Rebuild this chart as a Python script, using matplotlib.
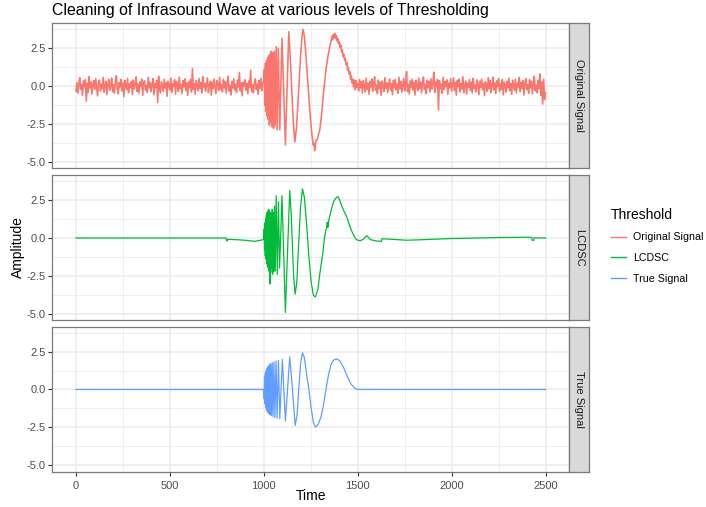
import numpy as np
import matplotlib
matplotlib.use("Agg")
import matplotlib.pyplot as plt
from matplotlib.lines import Line2D
from matplotlib.ticker import MultipleLocator

plt.rcParams["font.family"] = ["Liberation Sans", "DejaVu Sans"]

# ---------------------------------------------------------------------
# labels
# ---------------------------------------------------------------------
title_text = "Cleaning of Infrasound Wave at various levels of Thresholding"
facet_names = ["Original Signal", "LCDSC", "True Signal"]
facet_colors = ["#F8766D", "#00BA38", "#619CFF"]
x_ticks = [0, 500, 1000, 1500, 2000, 2500]
y_ticks = [-5.0, -2.5, 0.0, 2.5]

# ---------------------------------------------------------------------
# Original (noisy) signal
# quiet stretches sampled every 5 time units, event stretch as (t, v)
# ---------------------------------------------------------------------
orig_quiet_a = [
    -0.35, 0.21, -0.48, 0.12, 0.55, -0.22, 0.08, -0.61, 0.33, -0.05, 0.41, -1.00, 0.18, -0.44, 0.62, -0.12, 0.27, -0.53, 0.05, 0.36,
    -0.25, 0.48, -0.08, -0.66, 0.22, 0.39, -0.34, 0.11, -0.19, 0.58, -0.41, 0.03, 0.31, -0.57, 0.15, 0.44, -0.28, -0.03, 0.52, -0.38,
    0.09, -0.47, 0.35, 0.68, -0.16, -0.52, 0.24, -0.07, 0.43, -0.33, 0.19, -0.71, 0.37, 0.02, -0.24, 0.51, -0.45, 0.14, -0.10, 0.29,
    -0.56, 0.40, -0.21, 0.07, 0.60, -0.36, 0.13, -0.49, 0.26, -0.02, 0.46, -0.63, 0.20, 0.34, -0.27, 0.05, -0.42, 0.57, -0.14, 0.25,
    -0.39, 0.10, 0.49, -0.58, 0.17, -0.09, 0.38, -1.10, 0.64, -0.20, -0.46, 0.28, 0.01, -0.35, 0.45, -0.13, 0.22, -0.68, 0.32, 0.06,
    -0.26, 0.53, -0.43, 0.16, -0.04, 0.42, -0.55, 0.30, 0.08, -0.37, 0.59, -0.18, 0.12, -0.50, 0.35, -0.06, 0.47, -0.29, 0.21, -0.62,
    0.27, -0.11, 0.44, -0.40, 1.17, -0.23, 0.15, -0.54, 0.38, 0.04, -0.32, 0.50, -0.15, 0.23, -0.47, 0.61, -0.08, 0.19, -0.36, 0.11,
    0.54, -0.44, 0.07, 0.32, -0.60, 0.25, -0.17, 0.46, -0.03, -0.51, 0.36, 0.14, -0.30, 0.58, -0.21, 0.09, -0.39, 0.43, -0.12, 0.28,
    -0.48, 0.18, 0.65, -0.34, 0.03, -0.59, 0.31, -0.14, 0.49, -0.26, 0.12, -0.42, 0.39, -0.07, 0.90, -0.33, 0.20, -0.65, 0.24, -0.01,
    0.41, -0.28, 0.16, -0.52, 0.33, -0.10, 1.05, -0.38, 0.06, -0.45, 0.27, 0.47, -0.24, 0.13, -0.56, 0.37, -0.16, 0.52, -0.31, 0.22,
]
orig_event_t = [
    1000, 1003, 1006, 1009, 1012, 1015, 1018, 1021, 1024, 1027, 1030, 1033, 1036, 1040, 1044, 1048,
    1052, 1056, 1061, 1066, 1071, 1077, 1085, 1097, 1115, 1133, 1141, 1149, 1157, 1165, 1174, 1182,
    1188, 1195, 1202, 1209, 1216, 1224, 1232, 1240, 1248, 1256, 1263, 1268, 1271, 1274, 1278, 1285,
    1291, 1298, 1304, 1310, 1316, 1322, 1327, 1332, 1337, 1342, 1347, 1351, 1356, 1360, 1363, 1366,
    1370, 1374, 1378, 1382, 1386, 1390, 1394, 1398, 1402, 1406, 1410, 1414, 1418, 1422, 1426, 1430,
    1434, 1438, 1442, 1446, 1450, 1454, 1458, 1462, 1466, 1470, 1474, 1478, 1482, 1486, 1490, 1495,
]
orig_event_v = [
    0.30, 1.10, -1.30, 1.50, -1.70, 1.70, -2.00, 1.90, -2.20, 2.00, -2.60, 2.10, -2.40, 2.30, -2.70, 2.20,
    -2.80, 2.30, -2.60, 2.60, -2.90, 2.50, -2.90, 3.16, -3.90, 3.60, 1.90, -0.20, -2.40, -3.70, -2.80, -1.10,
    0.20, 1.80, 3.10, 3.75, 3.30, 2.10, 0.70, -0.60, -2.10, -3.20, -3.90, -3.80, -4.28, -3.90, -3.60, -3.55,
    -3.20, -2.90, -2.30, -1.60, -0.70, 0.00, 0.60, 1.20, 1.55, 2.00, 2.30, 2.60, 2.85, 3.10, 3.30, 3.05,
    3.40, 3.20, 3.49, 3.15, 3.35, 3.00, 3.15, 2.80, 2.95, 2.55, 2.70, 2.25, 2.40, 1.95, 2.10, 1.70,
    1.85, 1.40, 1.55, 1.05, 1.25, 0.80, 0.95, 0.45, 0.70, 0.20, 0.45, -0.05, 0.40, -0.25, 0.35, -0.10,
]
orig_quiet_b = [
    0.15, -0.32, 0.44, -0.12, 0.28, -0.47, 0.36, 0.05, -0.40, 0.52, -0.22, 0.18, -0.55, 0.31, -0.06, 0.47, -0.35, 0.10, 0.61, -0.28,
    0.07, -0.50, 0.39, -0.17, 0.24, -0.62, 0.33, 0.02, -0.36, 0.55, -0.14, 0.21, -0.44, 0.08, 0.46, -0.30, 0.16, -0.58, 0.37, -0.09,
    0.42, -0.26, 0.13, -0.48, 0.58, -0.19, 0.29, -0.41, 0.04, 0.50, -0.33, 0.19, 0.96, -0.37, 0.11, -0.53, 0.34, -0.08, 0.45, -0.27,
    0.22, -0.60, 0.38, 0.06, -0.31, 0.53, -0.15, 0.27, -0.46, 0.14, 0.60, -0.24, 0.09, -0.52, 0.40, -0.11, 0.31, -0.39, 0.48, -0.20,
    0.17, 0.92, -0.43, 0.26, -0.07, 0.44, -1.58, 0.35, -0.18, 0.12, -0.49, 0.57, -0.23, 0.30, -0.05, 0.41, -0.56, 0.20, -0.13, 0.49,
    -0.34, 0.10, 0.54, -0.29, 0.23, -0.61, 0.36, -0.02, 0.47, -0.40, 0.15, -0.21, 0.62, -0.45, 0.08, 0.33, -0.54, 0.19, -0.10, 0.43,
    -0.30, 0.25, -0.47, 0.51, -0.16, 0.06, -0.38, 0.40, 0.12, -0.57, 0.32, -0.09, 0.46, -0.25, 0.18, -0.64, 0.29, 0.03, -0.35, 0.55,
    -0.19, 0.37, -0.44, 0.11, 0.58, -0.27, 0.21, -0.51, 0.34, -0.04, 0.49, -0.36, 0.14, -0.22, 0.42, -0.59, 0.26, 0.07, -0.41, 0.30,
    -0.12, 0.53, -0.32, 0.16, -0.55, 0.39, 0.01, -0.28, 0.45, -0.46, 0.20, -0.08, 0.57, -0.37, 0.24, -0.15, 0.35, -0.60, 0.13, 0.48,
    -0.25, 0.09, -0.48, 0.42, -0.14, 0.31, -0.53, 0.22, 0.65, -0.33, 0.05, -0.44, 0.38, -0.18, 0.80, -0.62, 0.27, -1.20, 0.44, -0.90,
    -0.45,
]
quiet_step = 5

# ---------------------------------------------------------------------
# LCDSC-thresholded reconstruction, as (t, v)
# ---------------------------------------------------------------------
lcdsc_t = [
    0, 800, 801, 806, 808, 850, 900, 952, 990, 1000,
    1002, 1004, 1006, 1008, 1010, 1012, 1014, 1016, 1018, 1020, 1022, 1024, 1026, 1028, 1030, 1033,
    1035, 1037, 1040, 1042, 1045, 1047, 1050, 1053, 1057, 1061, 1066, 1072, 1078, 1084, 1097, 1115,
    1138, 1146, 1152, 1159, 1167, 1176, 1186, 1196, 1206, 1216, 1228, 1240, 1252, 1264, 1275, 1288,
    1298, 1307, 1316, 1323, 1330, 1335, 1338, 1341, 1345, 1352, 1360, 1370, 1378, 1388, 1395, 1403,
    1411, 1419, 1426, 1433, 1440, 1449, 1457, 1466, 1475, 1483, 1490, 1497, 1511, 1525, 1536, 1543,
    1550, 1557, 1567, 1585, 1599, 1627, 1629, 1700, 1760, 1850, 1990, 2255, 2427, 2429, 2437, 2439,
    2500,
]
lcdsc_v = [
    0.00, 0.00, -0.18, -0.18, -0.09, -0.11, -0.15, -0.22, -0.13, -0.10,
    0.60, -0.80, 1.00, -1.20, 1.30, -1.40, 1.50, -1.70, 1.70, -1.90, 1.80, -2.00, 1.90, -2.20, 1.80, -3.05,
    1.70, -2.30, 1.60, -2.00, 1.90, -2.40, 1.70, -2.20, 2.10, -2.20, 2.80, -2.40, 2.40, -2.00, 2.80, -4.93,
    3.14, 1.60, -0.40, -2.60, -3.72, -2.90, -0.30, 2.10, 3.25, 2.70, 0.90, -1.20, -2.90, -3.80, -3.90, -3.40,
    -2.40, -1.60, -0.84, 0.00, 0.49, 0.75, 1.05, 0.70, 1.10, 1.50, 1.90, 2.35, 2.55, 2.70, 2.74, 2.55,
    2.25, 2.00, 1.80, 1.62, 1.45, 1.12, 0.82, 0.52, 0.27, 0.08, -0.07, -0.13, -0.18, -0.12, -0.02, 0.12,
    0.14, 0.04, -0.10, -0.16, -0.20, -0.22, -0.05, -0.10, -0.15, -0.11, -0.04, 0.03, 0.05, -0.16, -0.16, 0.01,
    0.00,
]

# ---------------------------------------------------------------------
# True (clean) chirp, as (t, v)
# ---------------------------------------------------------------------
true_t = [
    0, 1000, 1002, 1004, 1006, 1008, 1010, 1012, 1014, 1016, 1018, 1020, 1022, 1025, 1028, 1031,
    1034, 1037, 1041, 1045, 1049, 1054, 1059, 1065, 1071, 1078, 1085, 1099, 1115, 1138, 1152, 1167,
    1177, 1186, 1196, 1206, 1216, 1228, 1240, 1252, 1264, 1275, 1290, 1305, 1318, 1331, 1345, 1358,
    1372, 1387, 1405, 1425, 1445, 1465, 1485, 1500, 2500,
]
true_v = [
    0.00, 0.00, -0.60, 0.80, -0.95, 1.05, -1.15, 1.22, -1.30, 1.36, -1.42, 1.47, -1.52, 1.56, -1.60, 1.64,
    -1.68, 1.71, -1.74, 1.77, -1.80, 1.83, -1.86, 1.89, -1.91, 1.93, -1.94, 1.99, -2.10, 2.16, 0.10, -2.38,
    -1.70, 0.00, 1.75, 2.43, 2.10, 1.00, 0.00, -1.20, -2.20, -2.49, -2.30, -1.80, -1.00, 0.00, 1.00, 1.65,
    1.95, 2.03, 1.90, 1.45, 0.85, 0.35, 0.08, 0.00, 0.00,
]

orig_t = np.concatenate([
    np.arange(0, 1000, quiet_step),
    orig_event_t,
    np.arange(1500, 2501, quiet_step),
])
orig_v = np.concatenate([orig_quiet_a, orig_event_v, orig_quiet_b])

series = [
    (orig_t, orig_v, 1.15),
    (np.array(lcdsc_t), np.array(lcdsc_v), 0.9),
    (np.array(true_t), np.array(true_v), 0.9),
]

# ---------------------------------------------------------------------
# layout (pixel boxes on a 706 x 507 canvas)
# ---------------------------------------------------------------------
W, H = 706, 507
fig = plt.figure(figsize=(W / 100, H / 100), dpi=100)


def box(x0, y0, x1, y1):
    return [x0 / W, 1 - y1 / H, (x1 - x0) / W, (y1 - y0) / H]


panel_rows = [(23, 168), (175, 320), (326.5, 471.5)]
left, right, strip_right = 52.5, 569, 589
border = "#7a7a7a"
grid_col = "#EBEBEB"

for i, ((t, v, lw), name, col) in enumerate(zip(series, facet_names, facet_colors)):
    top, bot = panel_rows[i]
    ax = fig.add_axes(box(left, top, right, bot))
    ax.plot(t, v, color=col, lw=lw, solid_joinstyle="round", zorder=3)
    ax.set_xlim(-125, 2625)
    ax.set_ylim(-5.43, 4.17)
    ax.set_xticks(x_ticks)
    ax.set_yticks(y_ticks)
    ax.xaxis.set_minor_locator(MultipleLocator(250))
    ax.yaxis.set_minor_locator(MultipleLocator(1.25))
    ax.grid(which="major", color=grid_col, lw=1.1, zorder=0)
    ax.grid(which="minor", color=grid_col, lw=0.55, zorder=0)
    ax.set_axisbelow(True)
    for sp in ax.spines.values():
        sp.set_color(border)
        sp.set_linewidth(0.9)
    ax.tick_params(which="major", length=3, width=0.8, color="#333333",
                   labelsize=8, labelcolor="#4D4D4D", pad=2)
    ax.tick_params(axis="x", which="major", pad=3.5)
    ax.tick_params(which="minor", length=0)
    ax.set_yticklabels([f"{y:.1f}" for y in y_ticks])
    if i < 2:
        ax.tick_params(axis="x", which="major", labelbottom=False, length=0)
    else:
        ax.set_xticklabels([str(x) for x in x_ticks])

    # facet strip on the right
    sax = fig.add_axes(box(right, top, strip_right, bot))
    sax.set_facecolor("#D9D9D9")
    sax.set_xticks([])
    sax.set_yticks([])
    for sp in sax.spines.values():
        sp.set_color(border)
        sp.set_linewidth(0.9)
    sax.text(0.5, 0.5, name, rotation=-90, ha="center", va="center",
             fontsize=8, color="#1A1A1A", transform=sax.transAxes)

fig.text(left / W, 1 - 10 / H, title_text, ha="left", va="center",
         fontsize=11.4, color="black")
fig.text((left + right) / 2 / W, 1 - 496 / H, "Time", ha="center",
         va="center", fontsize=10)
fig.text(18 / W, 1 - 247 / H, "Amplitude", rotation=90, ha="center",
         va="center", fontsize=10)

handles = [Line2D([0], [0], color=c, lw=1.0) for c in facet_colors]
fig.legend(handles, facet_names, title="Threshold", loc="upper left",
           bbox_to_anchor=(601 / W, 1 - 198 / H), frameon=False,
           fontsize=7.7, title_fontsize=10, handlelength=1.4,
           handletextpad=0.7, labelspacing=1.0, alignment="left")

fig.savefig("out.png", dpi=100)
